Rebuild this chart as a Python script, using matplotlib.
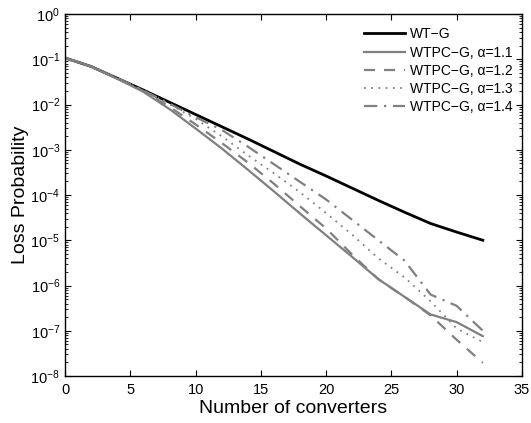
import numpy as np
import matplotlib
matplotlib.use("Agg")
import matplotlib.pyplot as plt
from matplotlib.ticker import NullFormatter, FixedLocator, LogFormatterSciNotation

plt.rcParams['font.family'] = ['Liberation Sans', 'DejaVu Sans']
plt.rcParams['mathtext.fontset'] = 'custom'
plt.rcParams['mathtext.rm'] = 'Liberation Sans'
plt.rcParams['mathtext.it'] = 'Liberation Sans'
plt.rcParams['mathtext.default'] = 'regular'

converters = [0, 2, 4, 6, 8, 10, 12, 14, 16, 18, 20, 22, 24, 26, 28, 30, 32]

# log10 of loss probability
log_wt_g = [-0.97, -1.16, -1.42, -1.68, -1.95, -2.22, -2.49, -2.76, -3.04, -3.32,
            -3.58, -3.85, -4.12, -4.38, -4.63, -4.82, -5.0]
log_a11 = [-0.97, -1.16, -1.43, -1.72, -2.10, -2.53, -2.97, -3.44, -3.92, -4.41,
           -4.89, -5.37, -5.86, -6.25, -6.64, -6.81, -7.12]
log_a12 = [-0.97, -1.16, -1.42, -1.70, -2.05, -2.44, -2.85, -3.28, -3.75, -4.25,
           -4.74, -5.32, -5.86, -6.25, -6.66, -7.20, -7.71]
log_a13 = [-0.97, -1.16, -1.42, -1.69, -1.99, -2.32, -2.70, -3.12, -3.52, -3.94,
           -4.40, -4.88, -5.40, -5.82, -6.35, -6.95, -7.25]
log_a14 = [-0.97, -1.16, -1.42, -1.69, -1.98, -2.28, -2.56, -2.93, -3.32, -3.71,
           -4.10, -4.55, -5.00, -5.45, -6.20, -6.45, -7.00]

labels = ['WT\u2212G', 'WTPC\u2212G, \u03b1=1.1', 'WTPC\u2212G, \u03b1=1.2',
          'WTPC\u2212G, \u03b1=1.3', 'WTPC\u2212G, \u03b1=1.4']
x_ticks = [0, 5, 10, 15, 20, 25, 30, 35]
y_decades = [-8, -7, -6, -5, -4, -3, -2, -1, 0]

x = np.array(converters)
series = [log_wt_g, log_a11, log_a12, log_a13, log_a14]
styles = [dict(color='black', lw=2.0, ls='-'),
          dict(color='#808080', lw=1.6, ls='-'),
          dict(color='#808080', lw=1.6, ls=(0, (5, 4))),
          dict(color='#808080', lw=1.3, ls=(0, (1, 3))),
          dict(color='#808080', lw=1.6, ls=(0, (6, 3, 1, 3)))]

fig = plt.figure(figsize=(5.31, 4.23), dpi=100)
ax = fig.add_axes([65/531, 1-376/423, (522-65)/531, (376-14)/423])

for ys, st, lab in zip(series, styles, labels):
    ax.plot(x, 10**np.array(ys), label=lab, **st)

ax.set_yscale('log')
ax.set_xlim(0, 35)
ax.set_ylim(1e-8, 1)
ax.xaxis.set_major_locator(FixedLocator(x_ticks))
major_y = [10.0**d for d in y_decades]
minor_y = [m * 10.0**d for d in y_decades[:-1] for m in range(2, 10)]
ax.yaxis.set_major_locator(FixedLocator(major_y))
ax.yaxis.set_major_formatter(LogFormatterSciNotation())
ax.yaxis.set_minor_locator(FixedLocator(minor_y))
ax.yaxis.set_minor_formatter(NullFormatter())
ax.tick_params(which='both', direction='in', top=True, right=True, labelsize=10.5)
ax.tick_params(which='major', length=4, width=0.8)
ax.tick_params(which='minor', length=2, width=0.6)
ax.tick_params(axis='x', pad=5)
for sp in ax.spines.values():
    sp.set_linewidth(1.0)

ax.set_xlabel('Number of converters', fontsize=14, labelpad=2)
ax.set_ylabel('Loss Probability', fontsize=14, labelpad=1)

leg = ax.legend(loc='upper right', bbox_to_anchor=(1.0, 0.99), frameon=False,
                fontsize=10, handlelength=3.0, handletextpad=0.3,
                labelspacing=0.3, borderaxespad=0.3)

fig.savefig('out.png', dpi=100)
